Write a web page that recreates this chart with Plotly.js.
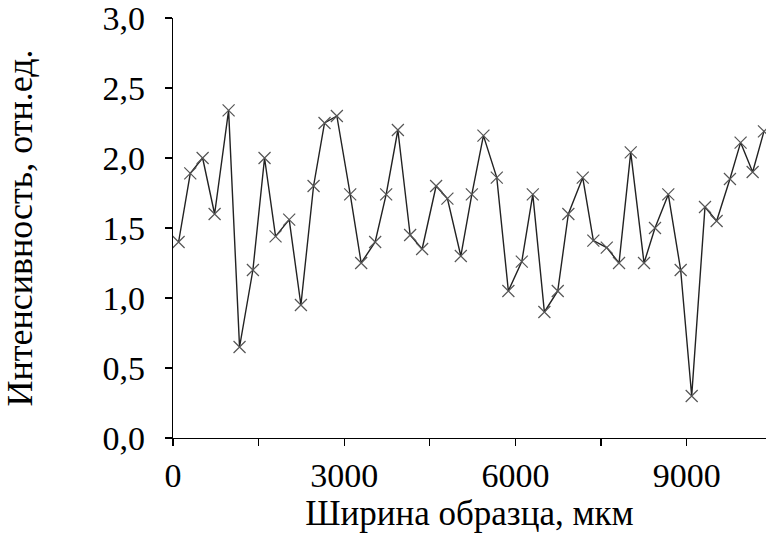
<!DOCTYPE html>
<html>
<head>
<meta charset="utf-8">
<script src="https://cdn.plot.ly/plotly-3.0.1.min.js"></script>
<style>html,body{margin:0;padding:0;background:#fff;}#chart{width:766px;height:537px;}</style>
</head>
<body>
<div id="chart"></div>
<script>
const widthUm = [98, 303, 519, 729, 974, 1166, 1400, 1604, 1797, 2036, 2241, 2463, 2655, 2871, 3105, 3297,
  3542, 3735, 3940, 4155, 4365, 4610, 4808, 5043, 5236, 5439, 5673, 5876, 6111, 6304, 6507, 6741, 6927,
  7179, 7365, 7600, 7815, 8020, 8253, 8445, 8678, 8895, 9088, 9321, 9525, 9758, 9945, 10156, 10354];
const intensity = [1.40, 1.89, 2.00, 1.60, 2.34, 0.65, 1.20, 2.00, 1.44, 1.56, 0.95, 1.80, 2.25, 2.30, 1.74, 1.25,
  1.40, 1.74, 2.20, 1.45, 1.35, 1.80, 1.71, 1.30, 1.74, 2.16, 1.86, 1.05, 1.26, 1.74, 0.90, 1.05, 1.60,
  1.86, 1.41, 1.36, 1.25, 2.04, 1.25, 1.50, 1.74, 1.20, 0.30, 1.65, 1.55, 1.85, 2.11, 1.90, 2.19];
const xTickVals = [0, 1500, 3000, 4500, 6000, 7500, 9000, 10500];
const xTickText = ['0', '', '3000', '', '6000', '', '9000', ''];
const yTickVals = [0, 0.5, 1.0, 1.5, 2.0, 2.5, 3.0];
const yTickText = ['0,0', '0,5', '1,0', '1,5', '2,0', '2,5', '3,0'];

const fam = 'Liberation Serif';
Plotly.newPlot('chart', [{
  x: widthUm, y: intensity, type: 'scatter', mode: 'lines+markers',
  line: {color: '#222', width: 1.4},
  marker: {symbol: 'x-thin', size: 12, line: {color: '#555', width: 1.2}, color: '#555'},
  cliponaxis: false
}], {
  width: 766, height: 537,
  margin: {l: 173, r: 0, t: 18, b: 99},
  paper_bgcolor: '#fff', plot_bgcolor: '#fff',
  showlegend: false,
  font: {family: fam, color: '#000', size: 34},
  xaxis: {
    range: [0, 10390], tickmode: 'array', tickvals: xTickVals, ticktext: xTickText,
    ticks: 'outside', ticklen: 7, tickwidth: 1.3, tickcolor: '#000',
    showline: true, linecolor: '#000', linewidth: 1.3, showgrid: false, zeroline: false,
    ticklabeloverflow: 'allow',
    tickfont: {family: fam, size: 34, color: '#000'},
    title: {text: 'Ширина образца, мкм', font: {family: fam, size: 35, color: '#000'}, standoff: 6}
  },
  yaxis: {
    range: [0, 3.0], tickmode: 'array', tickvals: yTickVals, ticktext: yTickText,
    ticks: 'outside', ticklen: 7, tickwidth: 1.3, tickcolor: '#000',
    showline: true, linecolor: '#000', linewidth: 1.3, showgrid: false, zeroline: false,
    ticklabeloverflow: 'allow', ticklabelstandoff: 13,
    tickfont: {family: fam, size: 34, color: '#000'},
    title: {text: 'Интенсивность, отн.ед.', font: {family: fam, size: 36, color: '#000'}, standoff: 58}
  }
}, {staticPlot: true});
</script>
</body>
</html>
